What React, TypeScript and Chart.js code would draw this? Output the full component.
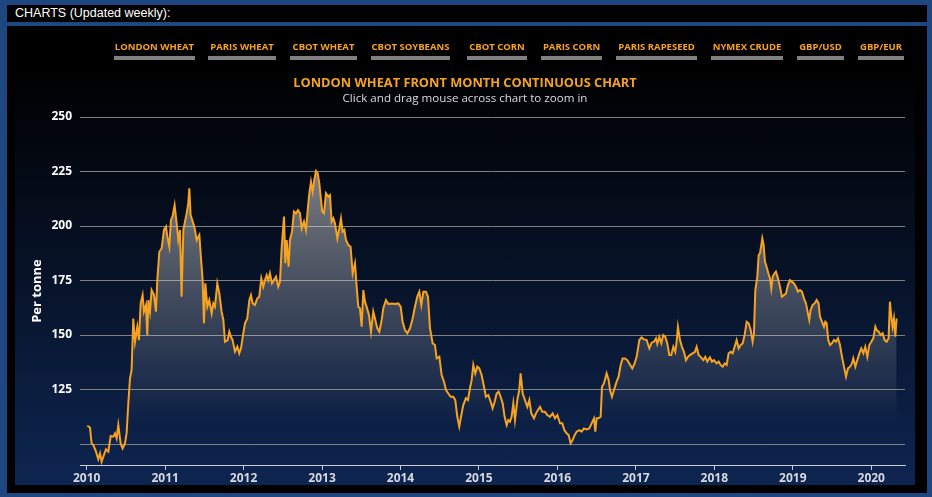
import { useEffect, useRef } from 'react';
import { Chart, registerables } from 'chart.js';

Chart.register(...registerables);

// Front-month London wheat settlement, [decimal year, £ per tonne]
const PRICE_POINTS: [number, number][] = [
  [2010.008, 108.4], [2010.042, 107.6], [2010.063, 100.3], [2010.085, 99.5], [2010.119, 96.5],
  [2010.148, 93.0], [2010.170, 95.7], [2010.191, 91.9], [2010.212, 94.2], [2010.246, 97.6],
  [2010.276, 96.5], [2010.306, 103.7], [2010.340, 103.4], [2010.361, 104.9], [2010.382, 102.6],
  [2010.403, 108.7], [2010.433, 100.3], [2010.458, 98.0], [2010.488, 100.3], [2010.509, 104.9],
  [2010.531, 118.7], [2010.552, 130.1], [2010.573, 134.0], [2010.594, 157.6], [2010.616, 146.9],
  [2010.645, 153.8], [2010.667, 147.7], [2010.688, 164.5], [2010.713, 168.3], [2010.730, 160.7],
  [2010.756, 163.8], [2010.773, 150.0], [2010.786, 166.0], [2010.807, 160.7], [2010.828, 170.6],
  [2010.858, 168.3], [2010.883, 160.7], [2010.900, 175.2], [2010.926, 188.2], [2010.956, 189.8],
  [2010.985, 198.2], [2011.011, 199.7], [2011.028, 195.1], [2011.053, 190.5], [2011.074, 202.7],
  [2011.096, 204.6], [2011.121, 209.6], [2011.147, 201.2], [2011.168, 193.6], [2011.189, 198.2],
  [2011.210, 167.6], [2011.232, 198.2], [2011.257, 202.7], [2011.274, 205.8], [2011.295, 210.4],
  [2011.308, 217.3], [2011.325, 205.0], [2011.351, 202.0], [2011.372, 199.7], [2011.402, 193.6],
  [2011.436, 195.9], [2011.457, 185.2], [2011.478, 175.2], [2011.495, 155.4], [2011.512, 173.7],
  [2011.538, 163.0], [2011.563, 166.0], [2011.593, 159.9], [2011.614, 164.5], [2011.635, 163.0],
  [2011.665, 173.7], [2011.691, 169.1], [2011.720, 160.7], [2011.742, 156.9], [2011.763, 146.9],
  [2011.797, 147.7], [2011.818, 151.5], [2011.839, 149.2], [2011.860, 147.7], [2011.890, 142.4],
  [2011.920, 144.7], [2011.945, 141.6], [2011.967, 143.9], [2011.996, 150.8], [2012.018, 155.4],
  [2012.047, 157.6], [2012.073, 166.0], [2012.094, 168.3], [2012.115, 164.5], [2012.145, 163.8],
  [2012.175, 166.8], [2012.200, 167.6], [2012.226, 176.0], [2012.251, 172.2], [2012.273, 175.2],
  [2012.294, 177.5], [2012.315, 175.2], [2012.336, 178.3], [2012.362, 173.7], [2012.387, 175.2],
  [2012.413, 176.8], [2012.442, 172.2], [2012.464, 174.5], [2012.485, 189.8], [2012.515, 204.3],
  [2012.532, 182.9], [2012.549, 193.6], [2012.574, 181.3], [2012.591, 193.6], [2012.617, 197.4],
  [2012.642, 206.6], [2012.668, 205.8], [2012.693, 207.3], [2012.719, 205.8], [2012.740, 198.9],
  [2012.770, 202.0], [2012.795, 198.2], [2012.825, 210.4], [2012.838, 215.0], [2012.859, 220.3],
  [2012.880, 215.8], [2012.901, 221.1], [2012.923, 225.2], [2012.944, 224.2], [2012.965, 219.6],
  [2012.982, 213.5], [2013.003, 206.6], [2013.025, 205.8], [2013.050, 215.0], [2013.080, 213.5],
  [2013.101, 214.2], [2013.122, 202.0], [2013.144, 203.5], [2013.165, 201.2], [2013.195, 194.3],
  [2013.220, 198.9], [2013.241, 203.5], [2013.262, 197.4], [2013.284, 198.2], [2013.305, 193.6],
  [2013.335, 191.3], [2013.364, 190.5], [2013.390, 178.3], [2013.420, 182.9], [2013.441, 172.2],
  [2013.462, 163.0], [2013.483, 162.3], [2013.505, 153.8], [2013.526, 170.6], [2013.547, 165.3],
  [2013.568, 163.0], [2013.598, 159.2], [2013.624, 151.5], [2013.653, 160.7], [2013.679, 156.9],
  [2013.704, 153.1], [2013.730, 151.5], [2013.760, 156.9], [2013.781, 162.3], [2013.815, 166.0],
  [2013.845, 164.2], [2013.887, 164.5], [2013.930, 164.2], [2013.972, 164.5], [2014.002, 163.0],
  [2014.027, 156.1], [2014.057, 152.3], [2014.087, 150.8], [2014.121, 153.1], [2014.155, 157.7],
  [2014.184, 163.0], [2014.214, 167.6], [2014.240, 169.9], [2014.265, 163.8], [2014.291, 169.9],
  [2014.325, 169.9], [2014.350, 167.6], [2014.376, 153.1], [2014.410, 146.2], [2014.439, 145.4],
  [2014.461, 139.3], [2014.495, 140.1], [2014.524, 131.7], [2014.554, 128.6], [2014.580, 124.8],
  [2014.609, 123.2], [2014.639, 121.7], [2014.673, 121.7], [2014.698, 120.2], [2014.724, 112.5],
  [2014.749, 108.0], [2014.775, 113.3], [2014.800, 117.9], [2014.834, 121.0], [2014.860, 120.2],
  [2014.885, 125.5], [2014.907, 129.4], [2014.928, 136.3], [2014.953, 132.4], [2014.979, 135.5],
  [2015.004, 134.7], [2015.034, 131.7], [2015.064, 126.3], [2015.089, 121.7], [2015.119, 122.5],
  [2015.149, 119.4], [2015.174, 116.4], [2015.200, 119.4], [2015.225, 123.2], [2015.251, 124.0],
  [2015.276, 121.7], [2015.302, 118.7], [2015.327, 112.5], [2015.353, 108.7], [2015.374, 111.0],
  [2015.395, 110.3], [2015.416, 112.5], [2015.438, 118.7], [2015.459, 111.0], [2015.489, 120.2],
  [2015.514, 124.8], [2015.531, 132.4], [2015.557, 123.2], [2015.586, 120.2], [2015.616, 117.1],
  [2015.642, 120.2], [2015.667, 114.1], [2015.701, 111.8], [2015.727, 114.1], [2015.752, 115.6],
  [2015.778, 117.1], [2015.807, 114.8], [2015.841, 114.8], [2015.871, 113.3], [2015.905, 112.5],
  [2015.939, 114.1], [2015.969, 111.8], [2015.999, 113.3], [2016.033, 109.5], [2016.062, 109.5],
  [2016.088, 106.4], [2016.117, 104.9], [2016.143, 104.1], [2016.168, 100.3], [2016.194, 101.8],
  [2016.219, 104.1], [2016.245, 105.7], [2016.279, 106.4], [2016.309, 105.7], [2016.338, 107.2],
  [2016.372, 106.7], [2016.406, 107.2], [2016.436, 109.5], [2016.466, 111.8], [2016.483, 105.7],
  [2016.500, 111.8], [2016.525, 111.8], [2016.551, 112.5], [2016.568, 126.3], [2016.593, 127.8],
  [2016.627, 132.4], [2016.653, 129.4], [2016.670, 124.8], [2016.695, 121.7], [2016.721, 124.8],
  [2016.755, 128.6], [2016.780, 130.9], [2016.806, 136.3], [2016.831, 139.3], [2016.861, 139.3],
  [2016.891, 138.5], [2016.954, 134.7], [2016.984, 137.0], [2017.010, 140.0], [2017.044, 147.7],
  [2017.073, 148.9], [2017.103, 148.0], [2017.137, 147.7], [2017.171, 143.9], [2017.201, 146.5],
  [2017.230, 146.9], [2017.256, 148.5], [2017.273, 145.9], [2017.298, 149.2], [2017.324, 146.2],
  [2017.349, 150.0], [2017.375, 149.2], [2017.400, 146.2], [2017.426, 140.8], [2017.451, 140.8],
  [2017.477, 144.6], [2017.502, 142.3], [2017.519, 146.9], [2017.536, 153.8], [2017.562, 147.7],
  [2017.587, 144.6], [2017.613, 142.3], [2017.638, 138.5], [2017.664, 140.0], [2017.689, 140.8],
  [2017.723, 141.6], [2017.753, 142.3], [2017.774, 144.6], [2017.800, 140.8], [2017.825, 140.0],
  [2017.859, 138.5], [2017.885, 140.0], [2017.910, 137.8], [2017.944, 139.8], [2017.970, 137.8],
  [2017.995, 138.5], [2018.029, 137.0], [2018.055, 137.8], [2018.080, 136.3], [2018.106, 135.5],
  [2018.131, 137.0], [2018.157, 136.3], [2018.182, 141.6], [2018.208, 142.3], [2018.233, 141.6],
  [2018.259, 144.6], [2018.284, 147.7], [2018.310, 143.9], [2018.335, 145.4], [2018.361, 146.2],
  [2018.386, 150.0], [2018.412, 156.1], [2018.437, 155.4], [2018.463, 152.3], [2018.488, 146.9],
  [2018.505, 150.8], [2018.522, 170.6], [2018.548, 176.8], [2018.565, 186.7], [2018.582, 187.5],
  [2018.599, 191.3], [2018.611, 194.3], [2018.628, 191.3], [2018.645, 183.6], [2018.666, 181.3],
  [2018.688, 178.3], [2018.709, 176.0], [2018.726, 171.4], [2018.743, 176.8], [2018.768, 178.3],
  [2018.785, 179.1], [2018.811, 176.0], [2018.836, 172.2], [2018.862, 167.6], [2018.887, 168.3],
  [2018.913, 169.1], [2018.938, 172.9], [2018.964, 175.2], [2018.989, 174.5], [2019.015, 173.7],
  [2019.040, 172.2], [2019.066, 169.9], [2019.091, 170.6], [2019.117, 169.9], [2019.142, 166.8],
  [2019.168, 164.5], [2019.193, 159.9], [2019.210, 156.9], [2019.227, 161.5], [2019.253, 163.8],
  [2019.278, 164.5], [2019.304, 166.1], [2019.329, 164.5], [2019.346, 158.4], [2019.372, 156.1],
  [2019.397, 153.8], [2019.414, 156.1], [2019.431, 155.4], [2019.452, 147.7], [2019.474, 145.4],
  [2019.499, 146.2], [2019.525, 147.7], [2019.550, 146.9], [2019.576, 148.5], [2019.601, 145.4],
  [2019.627, 140.0], [2019.652, 135.5], [2019.678, 130.9], [2019.703, 134.7], [2019.729, 135.5],
  [2019.754, 137.0], [2019.771, 139.3], [2019.797, 135.5], [2019.822, 138.5], [2019.848, 141.6],
  [2019.873, 143.9], [2019.899, 141.6], [2019.924, 144.6], [2019.950, 140.0], [2019.975, 145.4],
  [2020.001, 146.9], [2020.026, 148.5], [2020.052, 153.8], [2020.068, 152.3], [2020.094, 151.5],
  [2020.119, 150.0], [2020.145, 150.8], [2020.170, 147.7], [2020.196, 146.9], [2020.221, 148.5],
  [2020.238, 165.3], [2020.255, 158.4], [2020.272, 153.8], [2020.289, 157.6], [2020.306, 149.2],
  [2020.323, 157.6],
];

const Y_TICKS = [100, 125, 150, 175, 200, 225, 250];
const Y_LABELLED = [125, 150, 175, 200, 225, 250];
const X_TICKS = [2010, 2011, 2012, 2013, 2014, 2015, 2016, 2017, 2018, 2019, 2020];
const X_MIN = 2009.915;
const X_MAX = 2020.43;
const Y_MIN = 90.4;
const Y_MAX = 250;

const NAV_LINKS = [
  'LONDON WHEAT', 'PARIS WHEAT', 'CBOT WHEAT', 'CBOT SOYBEANS', 'CBOT CORN',
  'PARIS CORN', 'PARIS RAPESEED', 'NYMEX CRUDE', 'GBP/USD', 'GBP/EUR',
];
const HEADER_TEXT = 'CHARTS (Updated weekly):';
const TITLE_TEXT = 'LONDON WHEAT FRONT MONTH CONTINUOUS CHART';
const SUBTITLE_TEXT = 'Click and drag mouse across chart to zoom in';
const Y_TITLE = 'Per tonne';

// tab boxes [left, width] in page pixels
const NAV_BOXES: [number, number][] = [
  [114, 81], [208, 68], [290, 67], [371, 79], [467, 60],
  [541, 61], [616, 81], [711, 72], [797, 47], [858, 46],
];

const ORANGE = '#f7a31f';
const FONT = '"Open Sans", "DejaVu Sans", sans-serif';

export default function App() {
  const canvasRef = useRef<HTMLCanvasElement | null>(null);

  useEffect(() => {
    const canvas = canvasRef.current;
    if (!canvas) return;
    const chart = new Chart(canvas, {
      type: 'line',
      data: {
        datasets: [
          {
            data: PRICE_POINTS.map(([x, y]) => ({ x, y })),
            borderColor: ORANGE,
            borderWidth: 2,
            pointRadius: 0,
            tension: 0,
            fill: 'start',
            backgroundColor: (ctx: any) => {
              const area = ctx.chart.chartArea;
              if (!area) return 'rgba(255,255,255,0.3)';
              const g = ctx.chart.ctx.createLinearGradient(0, area.top, 0, area.bottom - 40);
              g.addColorStop(0, 'rgba(235,235,235,0.62)');
              g.addColorStop(1, 'rgba(235,235,235,0)');
              return g;
            },
          },
        ],
      },
      options: {
        animation: false,
        responsive: true,
        maintainAspectRatio: false,
        parsing: false as any,
        layout: { padding: { top: 91, right: 10, left: 0, bottom: 0 } },
        plugins: {
          legend: { display: false },
          tooltip: { enabled: false },
          title: { display: false },
        },
        scales: {
          x: {
            type: 'linear',
            min: X_MIN,
            max: X_MAX,
            afterBuildTicks: (s: any) => {
              s.ticks = X_TICKS.map((v) => ({ value: v }));
            },
            afterFit: (s: any) => {
              s.height = 20;
            },
            ticks: {
              autoSkip: false,
              maxRotation: 0,
              padding: 1,
              color: '#d6d9de',
              font: { family: FONT, size: 12, weight: 'bold' },
              callback: (v: any) => String(v),
            },
            grid: {
              drawOnChartArea: false,
              drawTicks: true,
              tickLength: 5,
              color: '#c8ccd2',
            },
            border: { display: true, color: '#c8ccd2', width: 1 },
          },
          y: {
            type: 'linear',
            min: Y_MIN,
            max: Y_MAX,
            afterBuildTicks: (s: any) => {
              s.ticks = Y_TICKS.map((v) => ({ value: v }));
            },
            afterFit: (s: any) => {
              s.width = 65;
            },
            ticks: {
              padding: 8,
              color: '#ffffff',
              font: { family: FONT, size: 12, weight: 'bold' },
              callback: (v: any) => (Y_LABELLED.includes(v) ? String(v) : ''),
            },
            grid: { drawTicks: false, color: '#808080', lineWidth: 1 },
            border: { display: false },
            title: {
              display: true,
              text: Y_TITLE,
              color: '#ffffff',
              font: { family: FONT, size: 13, weight: 'bold' },
              padding: { top: 14, bottom: 0 },
            },
          },
        },
      },
    });
    return () => chart.destroy();
  }, []);

  return (
    <div
      style={{
        position: 'fixed',
        left: 0,
        top: 0,
        width: 932,
        height: 497,
        background: '#1e4782',
        overflow: 'hidden',
        fontFamily: FONT,
      }}
    >
      <div
        style={{
          position: 'absolute',
          left: 7,
          top: 5,
          width: 920,
          height: 17,
          background: '#000',
          color: '#fff',
          fontFamily: '"Liberation Sans", Arial, sans-serif',
          fontSize: 12.5,
          lineHeight: '17px',
          paddingLeft: 8,
          boxSizing: 'border-box',
        }}
      >
        {HEADER_TEXT}
      </div>
      <div
        style={{
          position: 'absolute',
          left: 7,
          top: 26,
          width: 920,
          height: 467,
          background: '#000',
        }}
      />
      <div
        style={{
          position: 'absolute',
          left: 15,
          top: 26,
          width: 900,
          height: 459,
          background: 'linear-gradient(to bottom, #000 0%, #000 9%, #0e2551 100%)',
        }}
      >
        <canvas ref={canvasRef} />
      </div>
      {NAV_LINKS.map((label, i) => (
        <div
          key={label}
          style={{
            position: 'absolute',
            left: NAV_BOXES[i][0],
            top: 40,
            width: NAV_BOXES[i][1],
            textAlign: 'center',
            color: ORANGE,
            fontSize: 9.5,
            fontWeight: 'bold',
            lineHeight: '14px',
            whiteSpace: 'nowrap',
          }}
        >
          <div>{label}</div>
          <div style={{ marginTop: 2, height: 4, background: '#808080' }} />
        </div>
      ))}
      <div
        style={{
          position: 'absolute',
          left: 15,
          width: 900,
          top: 73,
          textAlign: 'center',
          color: ORANGE,
          fontSize: 12.8,
          fontWeight: 'bold',
          lineHeight: '18px',
        }}
      >
        {TITLE_TEXT}
      </div>
      <div
        style={{
          position: 'absolute',
          left: 15,
          width: 900,
          top: 90,
          textAlign: 'center',
          color: '#d8dce2',
          fontSize: 11.6,
          lineHeight: '16px',
        }}
      >
        {SUBTITLE_TEXT}
      </div>
    </div>
  );
}
